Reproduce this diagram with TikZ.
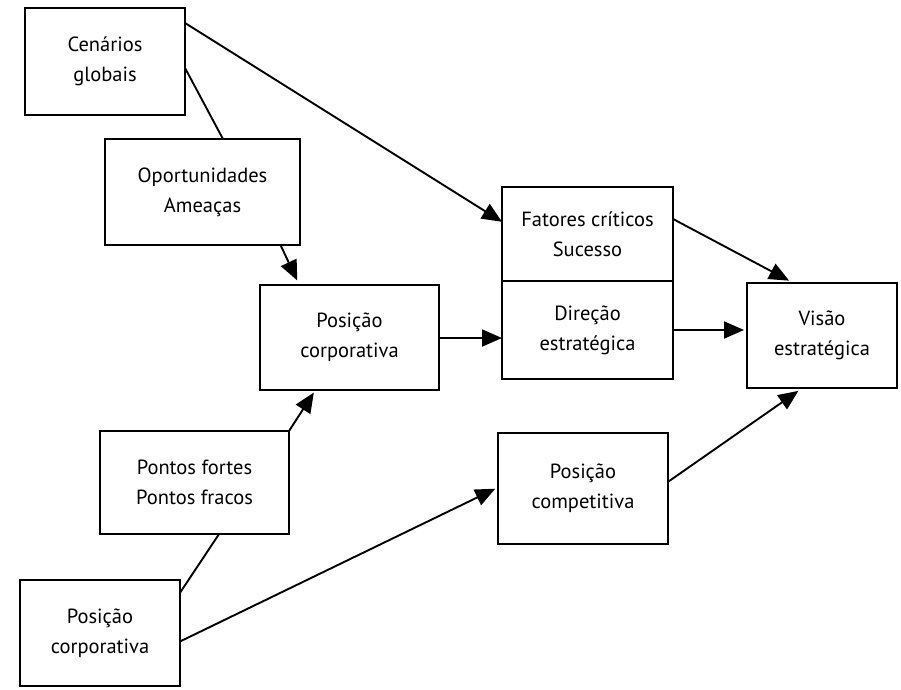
\documentclass[tikz,border=0pt]{standalone}
\usepackage{fontspec}
\setmainfont{PT Sans}
\usetikzlibrary{arrows.meta,calc}
\begin{document}
\begin{tikzpicture}[x=1pt,y=-1pt,
  box/.style={draw,line width=1.8pt,inner sep=0pt,outer sep=0pt,align=center,
    font=\fontsize{20.5}{30}\selectfont},
  con/.style={line width=1.9pt},
  arr/.style={con,-{Triangle[length=20pt,width=17pt]}}]
\useasboundingbox (0,0) rectangle (901,689);
% boxes: centers and sizes
\node[box,minimum width=160pt,minimum height=107pt] (A) at (105,61.5) {Cenários\\globais};
\node[box,minimum width=195pt,minimum height=106pt] (B) at (202.5,192) {Oportunidades\\Ameaças};
\node[box,minimum width=179pt,minimum height=105pt] (C) at (349.5,337.5) {Posição\\corporativa};
\node[box,minimum width=171pt,minimum height=94pt] (D1) at (587.5,234) {Fatores críticos\\Sucesso};
\node[box,minimum width=171pt,minimum height=98pt] (D2) at (587.5,330) {Direção\\estratégica};
\node[box,minimum width=150pt,minimum height=105pt] (V) at (822,335.5) {Visão\\estratégica};
\node[box,minimum width=170pt,minimum height=111pt] (E) at (583,488.5) {Posição\\competitiva};
\node[box,minimum width=189pt,minimum height=103pt] (F) at (194.5,482.5) {Pontos fortes\\Pontos fracos};
\node[box,minimum width=160pt,minimum height=106pt] (G) at (100,633) {Posição\\corporativa};
% connectors
\draw[con] ($(A.north east)!0.56!(A.south east)$) -- ($(B.north west)!0.605!(B.north east)$);
\draw[arr] ($(A.north east)!0.14!(A.south east)$) -- ($(D1.north west)!0.37!(D1.south west)$);
\draw[arr,shorten >=5pt] ($(B.south west)!0.90!(B.south east)$) -- ($(C.north west)!0.22!(C.north east)$);
\draw[arr] ([yshift=-0.5pt]C.east) -- ([yshift=-0.5pt]C.east -| D2.west);
\draw[arr,shorten >=5pt] ($(D1.north east)!0.34!(D1.south east)$) -- ($(V.north west)!0.31!(V.north east)$);
\draw[arr,shorten >=3pt] (D2.east) -- (D2.east -| V.west);
\draw[arr,shorten >=5pt] ($(E.north east)!0.44!(E.south east)$) -- ($(V.south west)!0.37!(V.south east)$);
\draw[arr,shorten >=3pt] (F.north east) -- ($(C.south west)!0.31!(C.south east)$);
\draw[con] ($(F.south west)!0.63!(F.south east)$) -- ($(G.north east)!0.12!(G.south east)$);
\draw[arr,shorten >=3pt] ($(G.north east)!0.58!(G.south east)$) -- ($(E.north west)!0.49!(E.south west)$);
\end{tikzpicture}
\end{document}
